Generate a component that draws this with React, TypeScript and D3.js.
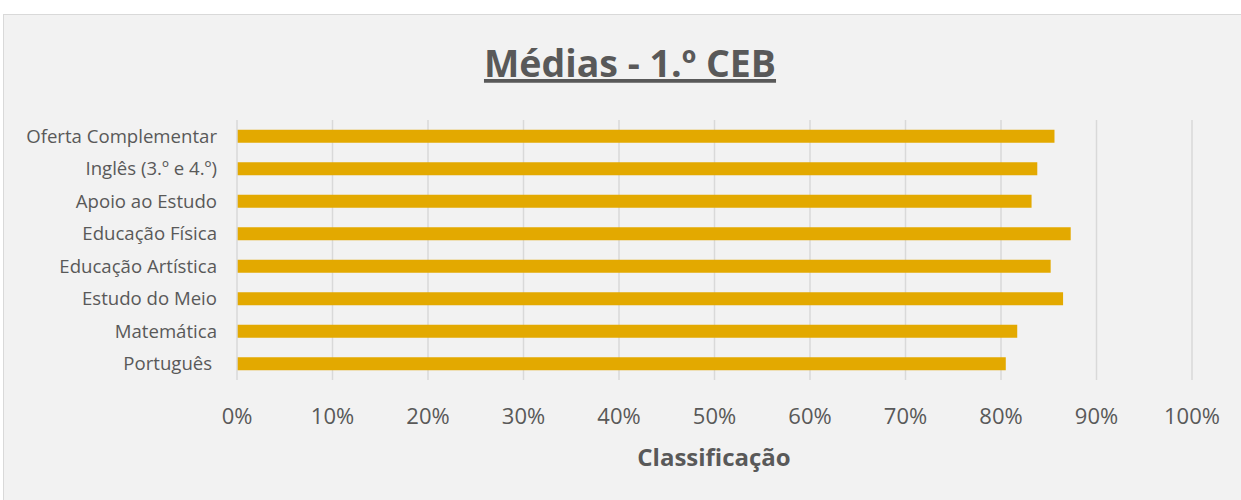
import { useEffect, useRef } from "react";
import * as d3 from "d3";

// categories top to bottom, as shown in the chart
const categories = [
  "Oferta Complementar",
  "Inglês (3.º e 4.º)",
  "Apoio ao Estudo",
  "Educação Física",
  "Educação Artística",
  "Estudo do Meio",
  "Matemática",
  "Português ",
];

// average grade (fraction of 100%)
const values = [0.856, 0.838, 0.832, 0.873, 0.852, 0.865, 0.817, 0.805];

const xTicks = [0, 0.1, 0.2, 0.3, 0.4, 0.5, 0.6, 0.7, 0.8, 0.9, 1];

const title = "Médias - 1.º CEB";
const xTitle = "Classificação";

const App = () => {
  const svgRef = useRef<SVGSVGElement>(null);

  useEffect(() => {
    const width = 1241;
    const height = 500;
    const svg = d3.select(svgRef.current).attr("width", width).attr("height", height);
    svg.selectAll("*").remove();

    const font = "'Open Sans', 'Noto Sans', sans-serif";
    const grey = "#595959";

    // chart area frame
    svg
      .append("rect")
      .attr("x", 3.5)
      .attr("y", 14.5)
      .attr("width", width)
      .attr("height", height)
      .attr("fill", "#f2f2f2")
      .attr("stroke", "#d9d9d9");

    const margin = { top: 120, right: 49, bottom: 120, left: 237 };
    const innerW = width - margin.left - margin.right;
    const innerH = height - margin.top - margin.bottom;

    const g = svg.append("g").attr("transform", `translate(${margin.left},${margin.top})`);

    const x = d3.scaleLinear().domain([0, 1]).range([0, innerW]);
    const y = d3.scaleBand().domain(categories).range([0, innerH]).paddingInner(0.6).paddingOuter(0.3);

    // vertical gridlines
    g.selectAll(".grid")
      .data(xTicks.slice(1))
      .enter()
      .append("line")
      .attr("class", "grid")
      .attr("x1", (d) => x(d))
      .attr("x2", (d) => x(d))
      .attr("y1", 0)
      .attr("y2", innerH)
      .attr("stroke", "#d9d9d9")
      .attr("stroke-width", 1.5);

    // bars
    g.selectAll(".bar")
      .data(values)
      .enter()
      .append("rect")
      .attr("class", "bar")
      .attr("x", x(0))
      .attr("y", (d, i) => y(categories[i])!)
      .attr("width", (d) => x(d) - x(0))
      .attr("height", y.bandwidth())
      .attr("fill", "#e3a900");

    // category axis line
    g.append("line")
      .attr("x1", x(0))
      .attr("x2", x(0))
      .attr("y1", 0)
      .attr("y2", innerH)
      .attr("stroke", "#d9d9d9")
      .attr("stroke-width", 1.5);

    // category labels
    g.selectAll(".cat")
      .data(categories)
      .enter()
      .append("text")
      .attr("class", "cat")
      .attr("x", -20)
      .attr("y", (d) => y(d)! + y.bandwidth() / 2)
      .attr("dy", "0.35em")
      .attr("text-anchor", "end")
      .attr("font-family", font)
      .attr("font-size", 18.6)
      .attr("fill", grey)
      .style("white-space", "pre")
      .text((d) => d);

    // x tick labels
    g.selectAll(".tick-label")
      .data(xTicks)
      .enter()
      .append("text")
      .attr("class", "tick-label")
      .attr("x", (d) => x(d))
      .attr("y", innerH + 44)
      .attr("text-anchor", "middle")
      .attr("font-family", font)
      .attr("font-size", 22)
      .attr("fill", grey)
      .text((d) => d3.format(".0%")(d));

    // axis title
    svg
      .append("text")
      .attr("x", 714)
      .attr("y", 466)
      .attr("text-anchor", "middle")
      .attr("font-family", font)
      .attr("font-weight", "bold")
      .attr("font-size", 24)
      .attr("fill", grey)
      .text(xTitle);

    // chart title
    svg
      .append("text")
      .attr("x", 630)
      .attr("y", 77)
      .attr("text-anchor", "middle")
      .attr("font-family", font)
      .attr("font-weight", "bold")
      .attr("font-size", 37.5)
      .attr("fill", grey)
      .attr("text-decoration", "underline")
      .text(title);
  }, []);

  return <svg ref={svgRef} style={{ position: "absolute", left: 0, top: 0 }}></svg>;
};

export default App;
